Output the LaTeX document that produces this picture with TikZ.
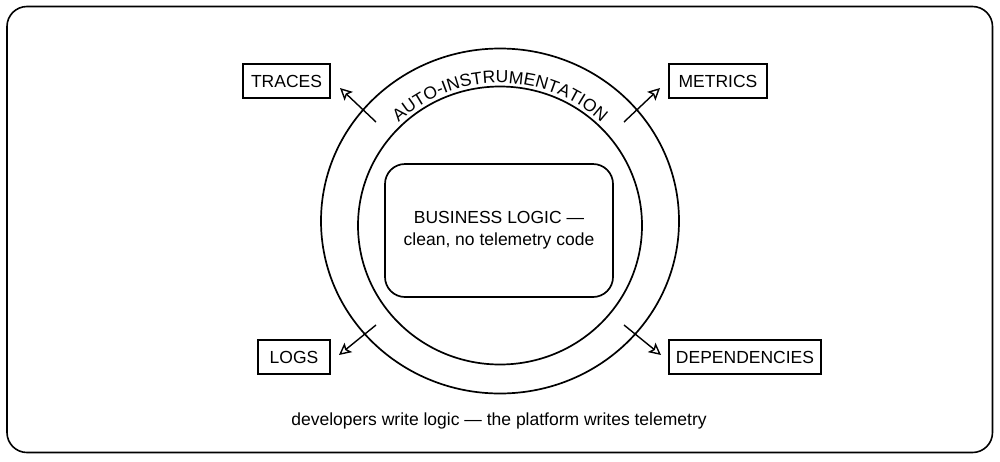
\documentclass[tikz,border=0pt]{standalone}
\usepackage{fontspec}
\setmainfont{Liberation Sans}
\usetikzlibrary{arrows.meta,decorations.text}

\begin{document}
\begin{tikzpicture}[x=1pt,y=1pt,
		every node/.style={font=\fontsize{17.5}{22}\selectfont},
		tagbox/.style={draw,line width=1.7pt,minimum height=33.5pt,inner sep=0pt},
		ring/.style={line width=1.7pt},
		outarrow/.style={line width=1.4pt,-{Stealth[open,length=12pt,width=12pt,inset=2.5pt]}}]
		\useasboundingbox (0,0) rectangle (1000,-461);
		\draw [line width=1.6pt,rounded corners=20pt] (7,-6.5) rectangle (992.5,-452.5);
		% the two rings
		\draw [ring] (500,-221) ellipse [x radius=179, y radius=172.5];
		\draw [ring] (500,-225.5) ellipse [x radius=142, y radius=139];
		\path [decorate,decoration={text along path,text align=center,
			text={|\fontsize{17.5}{20}\selectfont|AUTO-INSTRUMENTATION}}]
			(500,-223) ++(200:146 and 140) arc [start angle=200, end angle=-20, x radius=146, y radius=140];
		\node [draw,line width=1.7pt,rounded corners=20pt,minimum width=228pt,minimum height=133pt,align=center] (core) at (499,-230.5) {BUSINESS LOGIC —\\clean, no telemetry code};
		% outputs
		\node [tagbox,minimum width=87pt] (traces) at (286.5,-81) {TRACES};
		\node [tagbox,minimum width=97.5pt] (metrics) at (718,-81) {METRICS};
		\node [tagbox,minimum width=72pt] (logs) at (294,-357) {LOGS};
		\node [tagbox,minimum width=152.5pt] (deps) at (745,-357) {DEPENDENCIES};
		\coordinate (t0) at (376,-122); \coordinate (t1) at (340,-88);
		\coordinate (m0) at (624,-122); \coordinate (m1) at (660,-88);
		\coordinate (l0) at (376,-325); \coordinate (l1) at (339,-355);
		\coordinate (d0) at (624,-325); \coordinate (d1) at (661,-355);
		\draw [outarrow] (t0) -- (t1);
		\draw [outarrow] (m0) -- (m1);
		\draw [outarrow] (l0) -- (l1);
		\draw [outarrow] (d0) -- (d1);
		\node (note) at (499,-421) {developers write logic — the platform writes telemetry};
\end{tikzpicture}
\end{document}
